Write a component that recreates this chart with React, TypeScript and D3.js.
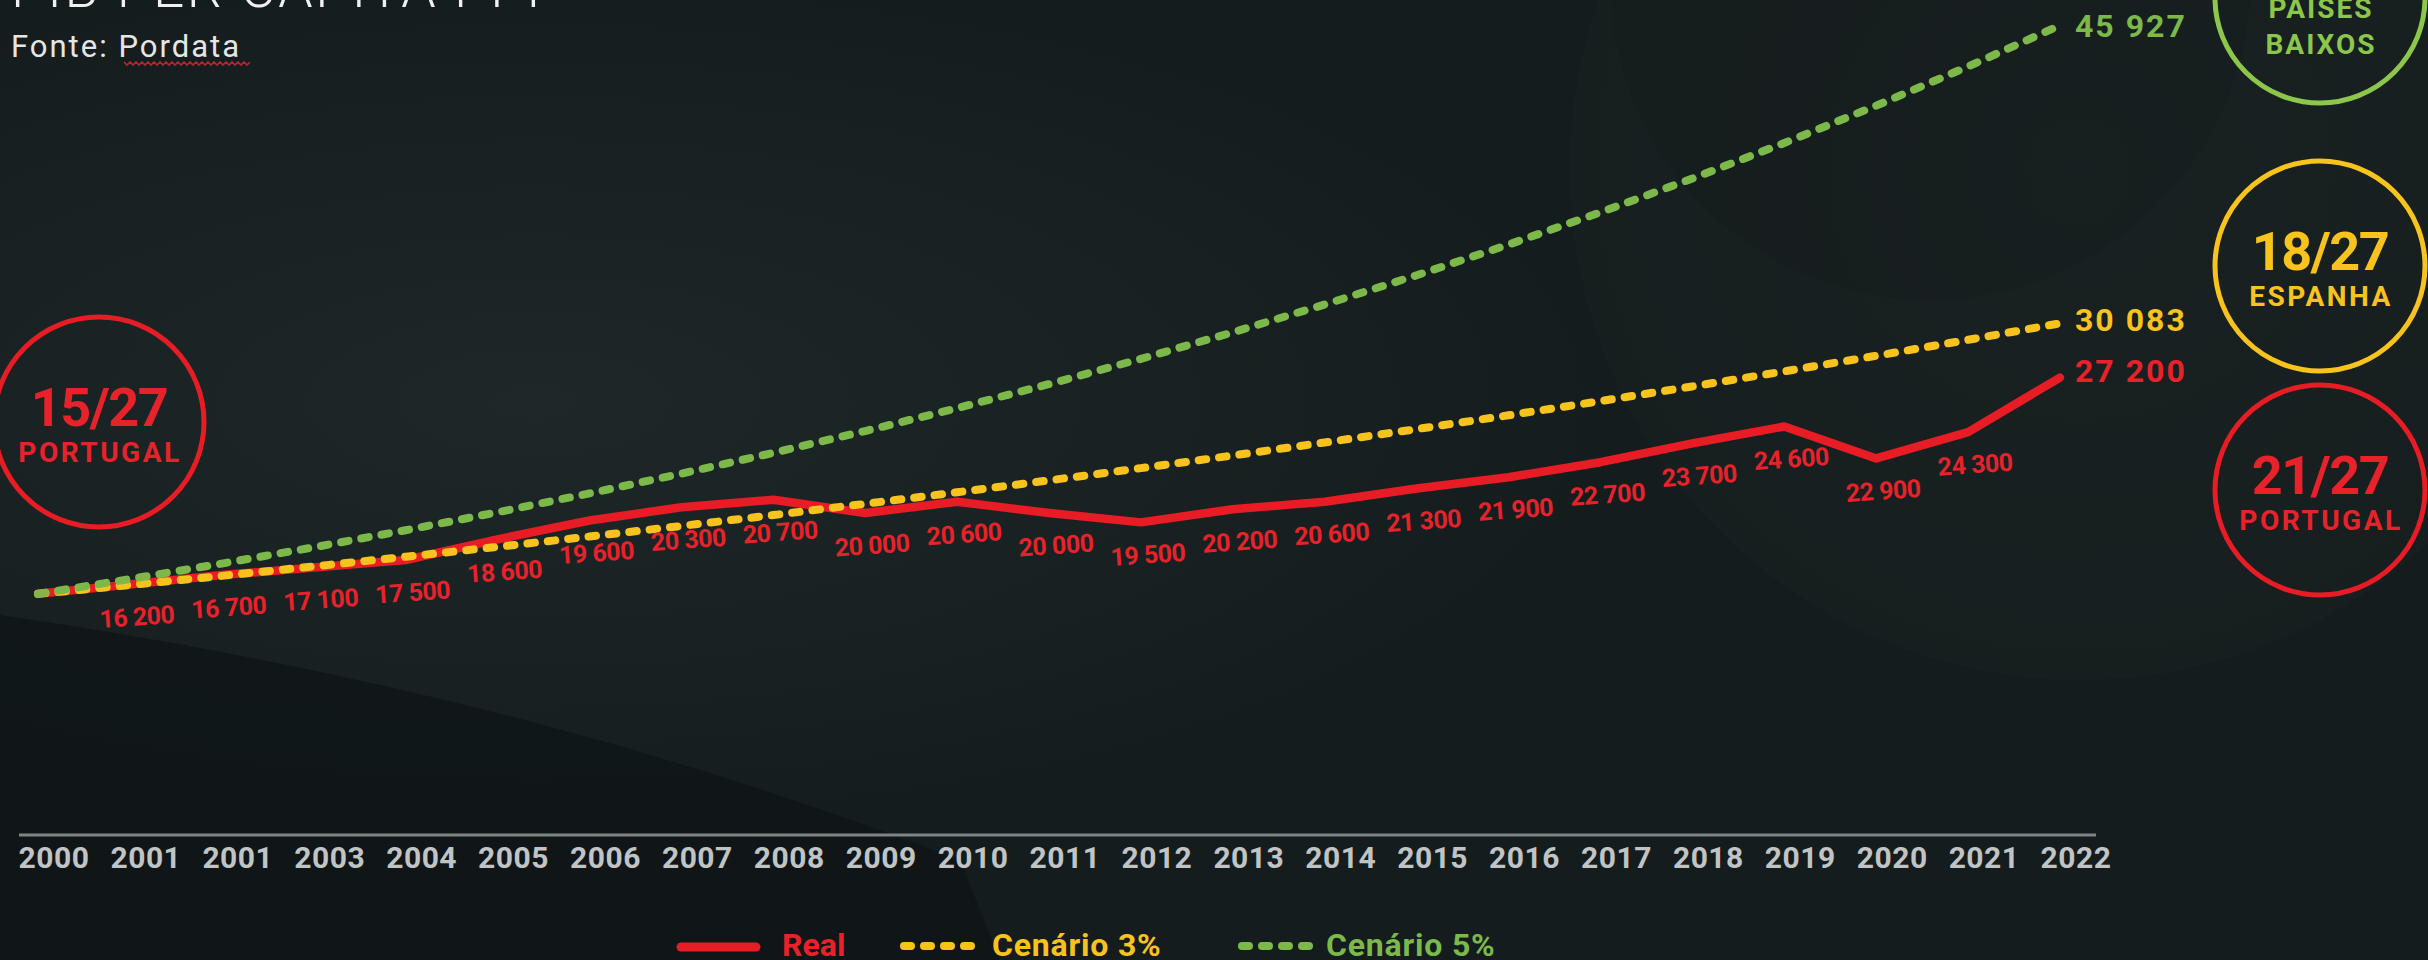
import React from "react";
import * as d3 from "d3";

// ---------- DATA ----------
const years = [2000, 2001, 2002, 2003, 2004, 2005, 2006, 2007, 2008, 2009, 2010, 2011, 2012, 2013, 2014, 2015, 2016, 2017, 2018, 2019, 2020, 2021, 2022];
const tickLabels = ["2000", "2001", "2001", "2003", "2004", "2005", "2006", "2007", "2008", "2009", "2010", "2011", "2012", "2013", "2014", "2015", "2016", "2017", "2018", "2019", "2020", "2021", "2022"];
const realValues = [15700, 16200, 16700, 17100, 17500, 18600, 19600, 20300, 20700, 20000, 20600, 20000, 19500, 20200, 20600, 21300, 21900, 22700, 23700, 24600, 22900, 24300, 27200];
const scenario3 = [15700, 16171, 16656, 17156, 17670, 18201, 18747, 19309, 19888, 20485, 21099, 21732, 22384, 23056, 23748, 24460, 25194, 25950, 26728, 27530, 28356, 29207, 30083];
const scenario5 = [15700, 16485, 17309, 18175, 19083, 20038, 21040, 22092, 23196, 24356, 25574, 26852, 28195, 29605, 31085, 32639, 34271, 35985, 37784, 39673, 41657, 43740, 45927];
const seriesNames = ["Real", "Cenário 3%", "Cenário 5%"];
const badgeRanks = ["15/27", "", "18/27", "21/27"];
const badgeNames = [["PORTUGAL"], ["PAÍSES", "BAIXOS"], ["ESPANHA"], ["PORTUGAL"]];

// ---------- STYLE ----------
const RED = "#e81c24";
const RED_TXT = "#e8222b";
const YELLOW = "#f7c31c";
const GREEN = "#7cb84a";
const GREEN_CIRCLE = "#8cc64a";
const FONT = "Roboto, 'Open Sans', sans-serif";

const W = 2428;
const H = 960;

const fmt = d3.formatLocale({ decimal: ",", thousands: " ", grouping: [3], currency: ["", ""] }).format(",");

export default function App() {
  const x = d3.scalePoint<number>().domain(years).range([38, 2060]);
  const y = d3.scaleLinear().domain([15000, 46000]).range([607, 24]);

  const line = d3
    .line<number>()
    .x((_, i) => x(years[i]) as number)
    .y((v) => y(v));

  const lastIdx = years.length - 1;
  const xEnd = x(years[lastIdx]) as number;

  // wavy underline under "Pordata"
  const squiggle = d3.range(0, 43).map((k) => [124 + k * 3, k % 2 === 0 ? 62 : 65] as [number, number]);
  const squigglePath = d3.line()(squiggle) as string;

  const badges = [
    { cx: 99, cy: 422, color: RED, text: RED_TXT, rank: badgeRanks[0], names: badgeNames[0] },
    { cx: 2320, cy: -2, color: GREEN_CIRCLE, text: GREEN_CIRCLE, rank: badgeRanks[1], names: badgeNames[1] },
    { cx: 2320, cy: 266, color: YELLOW, text: YELLOW, rank: badgeRanks[2], names: badgeNames[2] },
    { cx: 2320, cy: 490, color: RED, text: RED_TXT, rank: badgeRanks[3], names: badgeNames[3] },
  ];

  return (
    <svg
      width={W}
      height={H}
      viewBox={`0 0 ${W} ${H}`}
      style={{ position: "absolute", left: 0, top: 0, display: "block" }}
      fontFamily={FONT}
    >
      <defs>
        <radialGradient id="glowL" cx="0.22" cy="0.42" r="0.45">
          <stop offset="0" stopColor="#243030" stopOpacity="0.6" />
          <stop offset="1" stopColor="#243030" stopOpacity="0" />
        </radialGradient>
        <radialGradient id="glowR" cx="0.5" cy="0.5" r="0.5">
          <stop offset="0" stopColor="#1e2828" stopOpacity="0.8" />
          <stop offset="1" stopColor="#1b2424" stopOpacity="0.6" />
        </radialGradient>
      </defs>

      {/* background */}
      <rect x={0} y={0} width={W} height={H} fill="#151c1d" />
      <rect x={0} y={0} width={W} height={H} fill="url(#glowL)" />
      <circle cx={2080} cy={170} r={510} fill="url(#glowR)" opacity={0.5} />
      <circle cx={1930} cy={-20} r={320} fill="#131a1b" opacity={0.2} />
      <path d="M0,615 Q520,690 960,860 L1000,960 L0,960 Z" fill="#0e1415" opacity={0.7} />

      {/* title */}
      <text x={11} y={7} fill="#f0f0f0" fontSize={55} fontWeight={300} letterSpacing={2.5}>
        PIB PER CAPITA PPP
      </text>
      <text x={11} y={57} fill="#e6e6e6" fontSize={31} fontWeight={400} letterSpacing={2}>
        Fonte: Pordata
      </text>
      <path d={squigglePath} fill="none" stroke="#b3262f" strokeWidth={1.6} />

      {/* x axis */}
      <line x1={19} x2={2096} y1={835} y2={835} stroke="#7d8585" strokeWidth={3} />
      {years.map((yr, i) => (
        <text
          key={yr}
          x={(x(yr) as number) + 16}
          y={868}
          textAnchor="middle"
          fill="#c0c4c5"
          fontSize={30}
          fontWeight={700}
          letterSpacing={0.5}
        >
          {tickLabels[i]}
        </text>
      ))}

      {/* series: real below, then 3%, then 5% */}
      <path d={line(realValues) as string} fill="none" stroke={RED} strokeWidth={8.5} strokeLinejoin="round" strokeLinecap="round" />
      <path d={line(scenario3) as string} fill="none" stroke={YELLOW} strokeWidth={8} strokeDasharray="7.5 13" strokeLinecap="round" />
      <path d={line(scenario5) as string} fill="none" stroke={GREEN} strokeWidth={8} strokeDasharray="7.5 13" strokeLinecap="round" />

      {/* real value labels */}
      {realValues.map((v, i) => {
        if (i === 0 || i === lastIdx) return null;
        const cx = (x(years[i]) as number) + 7;
        const cy = y(v) + 32;
        return (
          <text
            key={i}
            x={cx}
            y={cy + 9}
            textAnchor="middle"
            fill={RED_TXT}
            fontSize={25}
            fontWeight={700}
            letterSpacing={-0.5}
            transform={`rotate(-4 ${cx} ${cy})`}
          >
            {fmt(v)}
          </text>
        );
      })}

      {/* end labels */}
      <text x={xEnd + 15} y={y(scenario5[lastIdx]) + 12} fill={GREEN} fontSize={32} fontWeight={700} letterSpacing={2}>
        {fmt(scenario5[lastIdx])}
      </text>
      <text x={xEnd + 15} y={y(scenario3[lastIdx]) + 8} fill={YELLOW} fontSize={32} fontWeight={700} letterSpacing={2}>
        {fmt(scenario3[lastIdx])}
      </text>
      <text x={xEnd + 15} y={y(realValues[lastIdx]) + 4} fill={RED_TXT} fontSize={32} fontWeight={700} letterSpacing={2}>
        {fmt(realValues[lastIdx])}
      </text>

      {/* badges */}
      {badges.map((b, i) => (
        <g key={i}>
          <circle cx={b.cx} cy={b.cy} r={105} fill="none" stroke={b.color} strokeWidth={5} />
          {b.rank && (
            <text x={b.cx} y={b.cy + 4} textAnchor="middle" fill={b.text} fontSize={54} fontWeight={700} letterSpacing={-1.5}>
              {b.rank}
            </text>
          )}
          {b.names.length === 1 ? (
            <text x={b.cx + 1} y={b.cy + 40} textAnchor="middle" fill={b.text} fontSize={28} fontWeight={700} letterSpacing={2.5}>
              {b.names[0]}
            </text>
          ) : (
            b.names.map((n, k) => (
              <text key={k} x={b.cx + 1} y={b.cy + 20 + k * 36} textAnchor="middle" fill={b.text} fontSize={28} fontWeight={700} letterSpacing={2}>
                {n}
              </text>
            ))
          )}
        </g>
      ))}

      {/* legend */}
      <line x1={681} x2={756} y1={947} y2={947} stroke={RED} strokeWidth={9} strokeLinecap="round" />
      <text x={782} y={956} fill={RED_TXT} fontSize={32} fontWeight={700}>
        {seriesNames[0]}
      </text>
      <line x1={904} x2={978} y1={946} y2={946} stroke={YELLOW} strokeWidth={8} strokeDasharray="7 13" strokeLinecap="round" />
      <text x={992} y={956} fill={YELLOW} fontSize={32} fontWeight={700} letterSpacing={0.8}>
        {seriesNames[1]}
      </text>
      <line x1={1242} x2={1316} y1={946} y2={946} stroke={GREEN} strokeWidth={8} strokeDasharray="7 13" strokeLinecap="round" />
      <text x={1326} y={956} fill={GREEN} fontSize={32} fontWeight={700} letterSpacing={0.8}>
        {seriesNames[2]}
      </text>
    </svg>
  );
}
